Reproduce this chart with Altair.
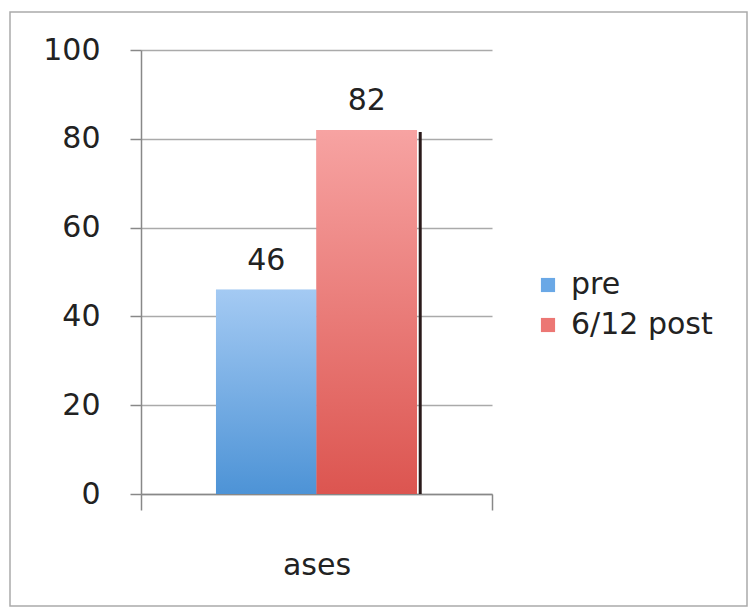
import altair as alt
import pandas as pd

categories = ["ases", "ases"]
series = ["pre", "6/12 post"]
values = [46, 82]
y_ticks = [0, 20, 40, 60, 80, 100]

df = pd.DataFrame({"category": categories, "series": series, "value": values})

FONT = "DejaVu Sans"
TXT = "#222222"

blue_grad = alt.LinearGradient(
    gradient="linear", x1=0, y1=0, x2=0, y2=1,
    stops=[alt.GradientStop(color="#a4caf3", offset=0),
           alt.GradientStop(color="#4d93d6", offset=1)])
red_grad = alt.LinearGradient(
    gradient="linear", x1=0, y1=0, x2=0, y2=1,
    stops=[alt.GradientStop(color="#f7a3a2", offset=0),
           alt.GradientStop(color="#dc5550", offset=1)])

x_enc = alt.X("category:N", title=None,
              scale=alt.Scale(paddingInner=0, paddingOuter=0),
              axis=alt.Axis(labelAngle=0, labelFontSize=30, labelFont=FONT,
                            labelColor=TXT, labelPadding=40, tickBand="extent",
                            tickSize=16, tickColor="#888888", domainColor="#888888",
                            domainWidth=1.5, tickWidth=1.5))
xoff_enc = alt.XOffset("series:N", sort=series,
                       scale=alt.Scale(paddingInner=0, paddingOuter=0.746))
y_enc = alt.Y("value:Q", title=None,
              scale=alt.Scale(domain=[0, 100], nice=False),
              axis=alt.Axis(values=y_ticks, labelFontSize=30, labelFont=FONT,
                            labelColor=TXT, labelPadding=30, tickSize=11,
                            tickColor="#888888", domainColor="#888888",
                            gridColor="#aaaaaa", domainWidth=1.5, tickWidth=1.5,
                            gridWidth=1.5))

base = alt.Chart(df)

solid = base.mark_bar().encode(
    x=x_enc, xOffset=xoff_enc, y=y_enc,
    color=alt.Color("series:N", sort=series,
                    scale=alt.Scale(domain=series, range=["#6aa8e6", "#ec7774"]),
                    legend=alt.Legend(title=None, orient="none", legendX=392,
                                      legendY=220, symbolType="square",
                                      symbolSize=200, labelFontSize=30,
                                      labelFont=FONT, labelColor=TXT,
                                      rowPadding=10, labelOffset=8,
                                      symbolStrokeWidth=0)))

blue = base.transform_filter(alt.datum.series == "pre").mark_bar(
    fill=blue_grad).encode(x=x_enc, xOffset=xoff_enc, y=y_enc)
red = base.transform_filter(alt.datum.series == "6/12 post").mark_bar(
    fill=red_grad).encode(x=x_enc, xOffset=xoff_enc, y=y_enc)

shadow = base.transform_filter(alt.datum.series == "6/12 post").mark_rule(
    strokeWidth=3, color="#2a1a1a", yOffset=2).encode(
    x=alt.X("category:N", bandPosition=0.7955),
    y=y_enc, y2=alt.datum(0))

labels = base.mark_text(baseline="bottom", dy=-14, fontSize=30, font=FONT,
                        color=TXT).encode(
    x=x_enc, xOffset=xoff_enc, y=y_enc, text=alt.Text("value:Q"))

frame = alt.Chart(pd.DataFrame({"k": [0]})).mark_rect(
    fill=None, stroke="#aaaaaa", strokeWidth=1.5).encode(
    x=alt.value(-131), x2=alt.value(606), y=alt.value(-38), y2=alt.value(556))

chart = alt.layer(solid, blue, red, shadow, labels, frame).properties(
    width=351, height=444,
    autosize=alt.AutoSizeParams(type="none"),
    padding={"left": 141, "top": 50, "right": 263, "bottom": 114},
    background="white",
).configure_view(stroke=None)

chart.save("out.html", embed_options={"renderer": "svg", "actions": False})
